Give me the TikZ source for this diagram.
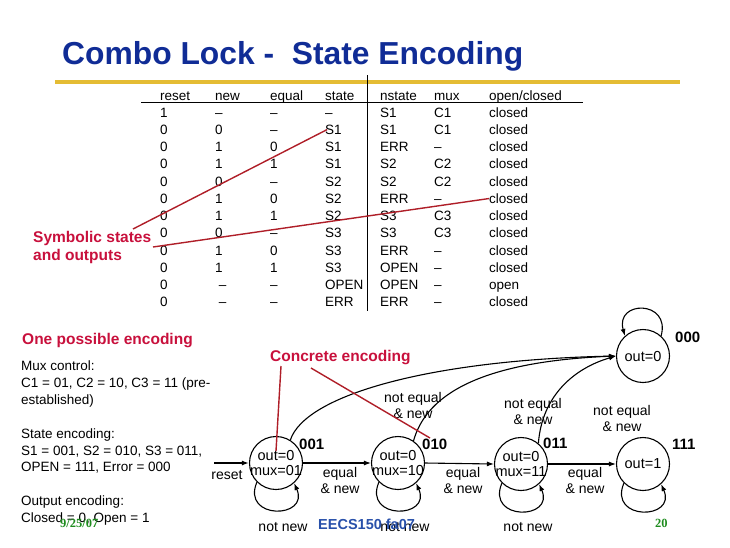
\documentclass[tikz,border=0pt]{standalone}
\usepackage{fontspec}
\setmainfont{Liberation Sans}
\newfontfamily\serifface{Liberation Serif}
\usetikzlibrary{arrows.meta}
\definecolor{titleblue}{RGB}{16,44,150}
\definecolor{eecsblue}{RGB}{40,80,170}
\definecolor{labelred}{RGB}{200,16,60}
\definecolor{linered}{RGB}{175,30,40}
\definecolor{ruleyellow}{RGB}{228,188,52}
\definecolor{pagegreen}{RGB}{30,140,30}
\begin{document}
\begin{tikzpicture}[x=1pt,y=-1pt,
  tabtxt/.style={inner sep=0pt, anchor=base west, font=\fontsize{13.5}{16}\selectfont},
  redlbl/.style={inner sep=0pt, anchor=base west, text=labelred, font=\fontsize{15.5}{18}\selectfont\bfseries},
  redline/.style={draw=linered, line width=1.4pt},
  statecirc/.style={draw, circle, line width=1.1pt, minimum size=53pt, inner sep=0pt},
  stxt/.style={inner sep=0pt, align=center, font=\fontsize{14.5}{15.5}\selectfont},
  scode/.style={inner sep=0pt, anchor=base west, font=\fontsize{15}{18}\selectfont\bfseries},
  elbl/.style={inner sep=0pt, align=center, font=\fontsize{14}{16}\selectfont},
  edge/.style={line width=1.1pt, -{Latex[length=7pt,width=5pt]}},
]
\useasboundingbox (0,0) rectangle (730,547);

% title
\node[anchor=base west, inner sep=0pt, text=titleblue, font=\fontsize{31.8}{36}\selectfont\bfseries] (title) at (62,64) {Combo Lock -\ \ State Encoding};

% rules
\draw[ruleyellow, line width=4pt] (55,82) -- (680,82);
\draw[line width=0.8pt] (367,75) -- (367,311);
\draw[line width=0.8pt] (141,102.5) -- (583,102.5);

% table header
\foreach \t/\x [count=\k] in {reset/160,new/215,equal/270,state/325,nstate/380,mux/434,open\slash closed/489}
  \node[tabtxt] (h\k) at (\x,100) {\t};

% table rows
\foreach \a/\b/\c/\d/\e/\f/\g [count=\i] in {
  1/--/--/--/S1/C1/closed,
  0/0/--/S1/S1/C1/closed,
  0/1/0/S1/ERR/--/closed,
  0/1/1/S1/S2/C2/closed,
  0/0/--/S2/S2/C2/closed,
  0/1/0/S2/ERR/--/closed,
  0/1/1/S2/S3/C3/closed,
  0/0/--/S3/S3/C3/closed,
  0/1/0/S3/ERR/--/closed,
  0/1/1/S3/OPEN/--/closed,
  0/\ --/--/OPEN/OPEN/--/open,
  0/\ --/--/ERR/ERR/--/closed}
{
  \pgfmathsetmacro{\yy}{117+(\i-1)*17.27}
  \node[tabtxt] (ra\i) at (160,\yy) {\a};
  \node[tabtxt] (rb\i) at (215,\yy) {\b};
  \node[tabtxt] (rc\i) at (270,\yy) {\c};
  \node[tabtxt] (rd\i) at (325,\yy) {\d};
  \node[tabtxt] (re\i) at (380,\yy) {\e};
  \node[tabtxt] (rf\i) at (434,\yy) {\f};
  \node[tabtxt] (rg\i) at (489,\yy) {\g};
}

% symbolic states label
\node[redlbl] (sym1) at (33,242) {Symbolic states};
\node[redlbl] (sym2) at (33,260) {and outputs};
\coordinate (symA) at (133,229);
\coordinate (symB) at (153,247);
\draw[redline] (symA) -- ([xshift=2pt]rd2.west);
\draw[redline] (symB) -- (rg6.west);

% left text block
\node[redlbl] (onepos) at (22,344) {One possible encoding};
\node[tabtxt] (m1) at (21,370) {Mux control:};
\node[tabtxt] (m2) at (21,387) {C1 = 01, C2 = 10, C3 = 11 (pre-};
\node[tabtxt] (m3) at (21,404) {established)};
\node[tabtxt] (s1) at (21,438) {State encoding:};
\node[tabtxt] (s2) at (21,455) {S1 = 001, S2 = 010, S3 = 011,};
\node[tabtxt] (s3) at (21,471) {OPEN = 111, Error = 000};
\node[tabtxt] (o1) at (21,505) {Output encoding:};
\node[tabtxt] (o2) at (21,522) {Closed = 0, Open = 1};

% states
\node[statecirc] (n001) at (276,463) {};
\node[statecirc] (n010) at (398,463) {};
\node[statecirc] (n011) at (521,464) {};
\node[statecirc] (n111) at (643,464) {};
\node[statecirc] (n000) at (643,356) {};
\node[stxt] (t001) at (n001) {out=0\\mux=01};
\node[stxt] (t010) at (n010) {out=0\\mux=10};
\node[stxt] (t011) at (n011) {out=0\\mux=11};
\node[stxt] (t111) at (n111) {out=1};
\node[stxt] (t000) at (n000) {out=0};
\node[scode] (c001) at (299,449) {001};
\node[scode] (c010) at (422,449) {010};
\node[scode] (c011) at (543,448) {011};
\node[scode] (c111) at (672,449) {111};
\node[scode] (c000) at (675,342) {000};

% reset
\coordinate (rst) at (214,463);
\draw[line width=1.8pt, -{Latex[length=7pt,width=5pt]}] (rst) -- (n001.west);
\node[elbl] (rstl) at (227,475) {reset};

% forward edges
\draw[edge] (n001.east) -- (n010.west);
\draw[edge] (n010.east) -- (n011.west);
\draw[edge] (n011.east) -- (n111.west);
\node[elbl] (e1) at (340,480) {equal\\\& new};
\node[elbl] (e2) at (463,480) {equal\\\& new};
\node[elbl] (e3) at (585,480) {equal\\\& new};

% self loops
\draw[edge] (n001.-135) .. controls +(-16,38) and +(16,36) .. (n001.-48);
\draw[edge] (n010.-135) .. controls +(-16,38) and +(16,36) .. (n010.-48);
\draw[edge] (n011.-135) .. controls +(-16,38) and +(16,36) .. (n011.-48);
\draw[edge] (n111.-135) .. controls +(-16,38) and +(16,36) .. (n111.-48);
\draw[edge] (n000.48) .. controls +(10,-36) and +(-10,-36) .. (n000.132);
\node[elbl] (nn1) at (283,527) {not new};
\node[elbl] (nn2) at (405,527) {not new};
\node[elbl] (nn3) at (528,527) {not new};

% error edges
\draw[edge] (n001.58) .. controls (305,395) and (430,360) .. (n000.west);
\draw[edge] (n010.55) .. controls (425,400) and (470,362) .. (n000.west);
\draw[edge] (n011.50) .. controls (542,395) and (575,368) .. (n000.west);
\node[elbl] (ne1) at (413,405) {not equal\\\& new};
\node[elbl] (ne2) at (533,411) {not equal\\\& new};
\node[elbl] (ne3) at (622,418) {not equal\\\& new};

% concrete encoding
\node[redlbl] (conc) at (270,361) {Concrete encoding};
\coordinate (cA) at (281,366);
\coordinate (cB) at (311,368);
\draw[redline] (cA) -- (276,451);
\draw[redline] (cB) -- (430,438);

% footer
\node[inner sep=0pt, anchor=base west, text=pagegreen, font=\serifface\fontsize{12.5}{14}\selectfont\bfseries] (date) at (60,527) {9/25/07};
\node[inner sep=0pt, anchor=base west, text=eecsblue, font=\fontsize{14.5}{16}\selectfont\bfseries] (eecs) at (318,529) {EECS150 fa07};
\node[inner sep=0pt, anchor=base west, text=pagegreen, font=\serifface\fontsize{12.5}{14}\selectfont\bfseries] (pg) at (655,527) {20};
\end{tikzpicture}
\end{document}
